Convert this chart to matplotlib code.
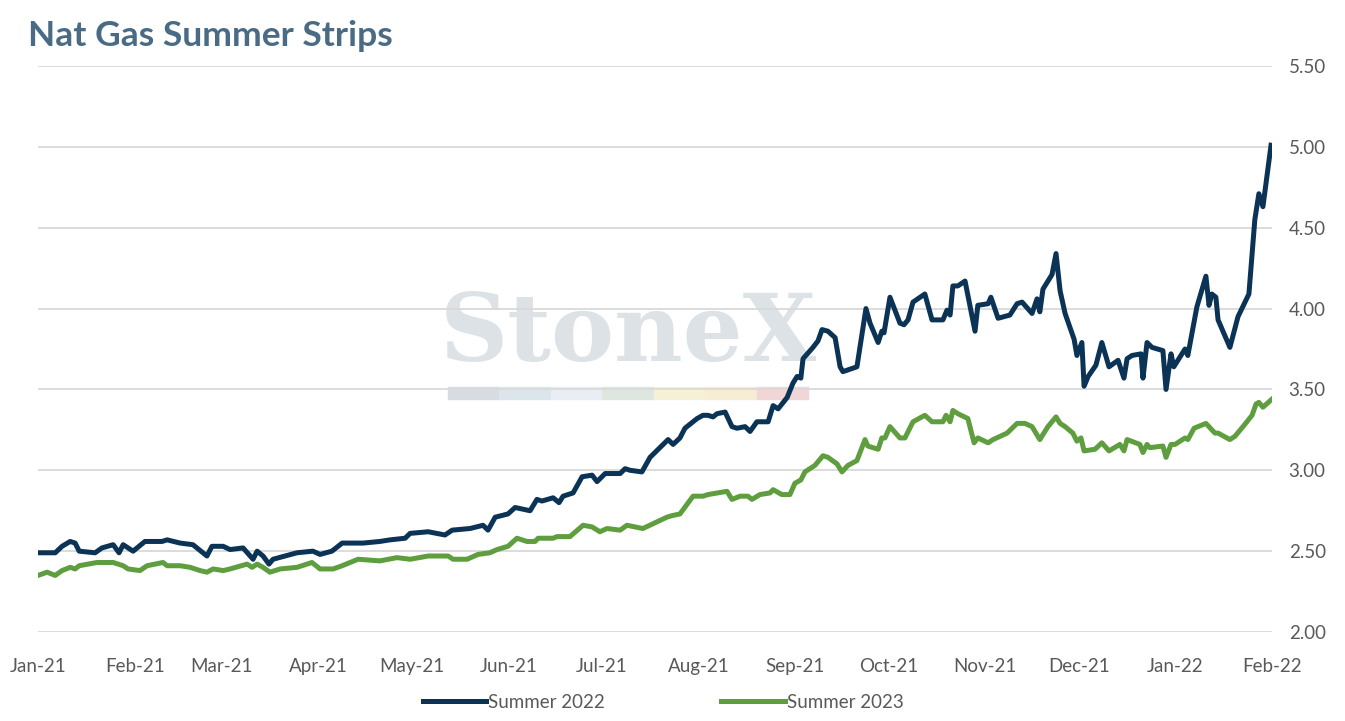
import matplotlib
matplotlib.use("Agg")
import matplotlib.pyplot as plt
import pandas as pd
import numpy as np

plt.rcParams['font.family'] = ['Lato', 'DejaVu Sans']

start = pd.Timestamp("2021-01-01")
# day offsets from 2021-01-01, values
s22_days = [0,5.5,7.7,10.3,11.9,13.2,18.3,20.5,24.1,26.0,27.3,30.5,34.3,39.8,41.4,45.6,49.7,54.2,55.8,59.4,61.6,65.8,69.0,70.3,72.2,74.1,75.4,79.3,83.1,88.2,90.5,94.3,97.6,104.3,109.7,113.0,117.8,119.4,125.2,130.6,132.9,138.6,142.8,144.4,146.7,150.8,153.1,157.9,160.1,161.7,165.3,167.2,168.5,171.7,174.6,177.8,179.4,182.0,186.8,188.4,190.0,193.8,196.4,202.2,203.8,206.0,207.6,211.5,213.4,215.0,216.6,217.9,220.5,222.7,224.3,226.9,228.5,230.7,234.3,235.9,237.5,240.4,242.3,243.6,244.8,245.5,248.7,250.3,251.6,253.5,255.8,257.4,258.3,262.8,265.7,267.0,269.6,270.8,271.5,273.4,276.6,277.9,279.2,280.8,284.6,286.9,290.4,291.7,292.7,293.6,295.2,297.5,300.7,301.6,304.9,305.8,308.1,311.9,314.2,315.8,319.0,320.6,321.5,322.5,325.4,326.7,328.0,329.6,332.5,333.4,335.0,335.7,337.0,339.5,341.4,343.7,346.6,348.5,349.5,351.1,354.0,354.6,355.9,357.5,361.0,362.0,363.6,364.5,368.1,369.0,371.9,374.8,375.8,376.7,378.0,378.7,382.5,385.1,388.6,390.5,391.8,393.1,395.7]
s22_vals = [2.49,2.49,2.53,2.56,2.55,2.50,2.49,2.52,2.54,2.49,2.54,2.50,2.56,2.56,2.57,2.55,2.54,2.47,2.53,2.53,2.51,2.52,2.45,2.50,2.47,2.42,2.45,2.47,2.49,2.50,2.48,2.50,2.55,2.55,2.56,2.57,2.58,2.61,2.62,2.60,2.63,2.64,2.66,2.63,2.71,2.73,2.77,2.75,2.82,2.81,2.83,2.80,2.84,2.86,2.96,2.97,2.93,2.98,2.98,3.01,3.00,2.99,3.08,3.19,3.16,3.20,3.26,3.32,3.34,3.34,3.33,3.35,3.36,3.27,3.26,3.27,3.24,3.30,3.30,3.40,3.38,3.45,3.54,3.58,3.57,3.69,3.76,3.80,3.87,3.86,3.82,3.64,3.61,3.64,4.00,3.91,3.79,3.86,3.85,4.07,3.91,3.90,3.93,4.04,4.09,3.93,3.93,3.99,3.96,4.14,4.14,4.17,3.86,4.02,4.03,4.07,3.94,3.96,4.03,4.04,3.97,4.06,3.98,4.12,4.21,4.34,4.11,3.97,3.81,3.71,3.79,3.52,3.58,3.65,3.79,3.64,3.68,3.57,3.69,3.71,3.72,3.57,3.79,3.76,3.74,3.50,3.72,3.64,3.75,3.71,4.01,4.20,4.02,4.09,4.07,3.93,3.76,3.95,4.09,4.55,4.71,4.63,5.01]
s23_days = [0,2.9,5.5,7.7,10.3,11.9,13.2,18.9,24.1,27.3,28.9,32.7,35.0,40.1,41.4,45.6,48.8,52.0,54.2,56.2,59.4,61.6,67.1,68.7,70.3,72.2,74.4,77.7,83.1,87.9,90.5,94.7,97.6,102.7,109.7,115.2,119.4,125.2,131.6,133.2,137.7,141.2,145.0,147.3,150.8,153.7,156.9,159.5,160.5,165.3,166.5,170.7,174.9,177.8,180.3,182.6,186.8,189.0,194.1,197.4,201.8,203.5,206.0,210.2,213.4,215.0,221.1,222.7,225.3,227.8,229.1,231.7,234.9,235.9,238.7,241.3,242.9,244.8,246.1,249.3,251.9,253.5,256.4,258.0,259.9,262.8,265.4,266.3,269.6,270.8,271.8,273.4,276.6,278.2,280.8,284.6,286.9,290.4,291.4,292.7,293.6,295.2,298.4,300.4,301.6,304.9,306.5,311.0,314.2,316.7,319.0,321.5,324.1,326.7,328.0,329.6,332.1,333.4,334.7,335.7,339.2,341.4,343.7,347.2,348.5,349.5,353.6,354.6,355.9,356.8,361.0,362.0,363.6,364.9,368.1,369.0,371.0,374.8,377.7,378.7,382.5,384.1,386.7,389.6,390.9,391.8,393.1,396]
s23_vals = [2.35,2.37,2.35,2.38,2.40,2.39,2.41,2.43,2.43,2.41,2.39,2.38,2.41,2.43,2.41,2.41,2.40,2.38,2.37,2.39,2.38,2.39,2.42,2.40,2.42,2.40,2.37,2.39,2.40,2.43,2.39,2.39,2.41,2.45,2.44,2.46,2.45,2.47,2.47,2.45,2.45,2.48,2.49,2.51,2.53,2.58,2.56,2.56,2.58,2.58,2.59,2.59,2.66,2.65,2.62,2.64,2.63,2.66,2.64,2.67,2.71,2.72,2.73,2.84,2.84,2.85,2.87,2.82,2.84,2.84,2.82,2.85,2.86,2.88,2.85,2.85,2.92,2.94,2.99,3.03,3.09,3.08,3.04,2.99,3.03,3.06,3.19,3.15,3.13,3.20,3.20,3.27,3.20,3.20,3.30,3.34,3.30,3.30,3.34,3.30,3.37,3.35,3.32,3.17,3.20,3.17,3.19,3.23,3.29,3.29,3.27,3.19,3.27,3.33,3.29,3.27,3.23,3.18,3.20,3.12,3.13,3.17,3.12,3.16,3.12,3.19,3.16,3.11,3.16,3.14,3.15,3.08,3.16,3.16,3.20,3.19,3.26,3.29,3.23,3.23,3.19,3.21,3.27,3.34,3.41,3.42,3.39,3.44]
yticks = [2.00,2.50,3.00,3.50,4.00,4.50,5.00,5.50]
months = pd.date_range("2021-01-01", "2022-02-01", freq="MS")

navy = "#0b3355"
green = "#5e9e3e"
grey = "#595959"

fig = plt.figure(figsize=(13.45, 7.21), dpi=100)

# watermark (behind the axes)
fig.text(0.467, 0.535, "StoneX", fontsize=68, family="DejaVu Serif", fontweight='bold',
         color="#dde2e7", ha='center', va='center', zorder=0)
wm_cols = ["#d6dce2", "#dde5ec", "#e8eef3", "#dde7df", "#f6f0d6", "#f7ecd4", "#f0d6d6"]
for i, c in enumerate(wm_cols):
    fig.patches.append(plt.Rectangle((0.333 + i*0.0383, 0.447), 0.0383, 0.016,
                                     transform=fig.transFigure, color=c, zorder=0))

ax = fig.add_axes([0.0283, 0.1234, 0.9174, 0.7851])
ax.set_zorder(2)
ax.patch.set_alpha(0)

x22 = [start + pd.Timedelta(days=d) for d in s22_days]
x23 = [start + pd.Timedelta(days=d) for d in s23_days]
ax.plot(x22, s22_vals, color=navy, lw=3.6, label="Summer 2022", zorder=3)
ax.plot(x23, s23_vals, color=green, lw=3.6, label="Summer 2023", zorder=3)

ax.set_xlim(months[0], months[-1])
ax.set_ylim(2.0, 5.5)
ax.set_yticks(yticks)
ax.set_yticklabels([f"{v:.2f}" for v in yticks])
ax.yaxis.tick_right()
ax.set_xticks(months)
ax.set_xticklabels([m.strftime("%b-%y") for m in months])
ax.tick_params(axis='both', length=0, labelsize=13.5, colors=grey)
ax.tick_params(axis='x', pad=19)
ax.tick_params(axis='y', pad=12)
ax.grid(axis='y', color="#d9d9d9", lw=1.3)
for s in ax.spines.values():
    s.set_visible(False)

fig.text(0.021, 0.95, "Nat Gas Summer Strips", fontsize=25.5, fontweight='bold',
         color="#4a6b86", ha='left', va='center')

leg = fig.legend(loc='center', bbox_to_anchor=(0.493, 0.026), ncol=2, frameon=False,
                 fontsize=13.5, handlelength=3.4, columnspacing=6.2, handletextpad=0.1)
for t in leg.get_texts():
    t.set_color(grey)

fig.savefig("out.png", dpi=100)
